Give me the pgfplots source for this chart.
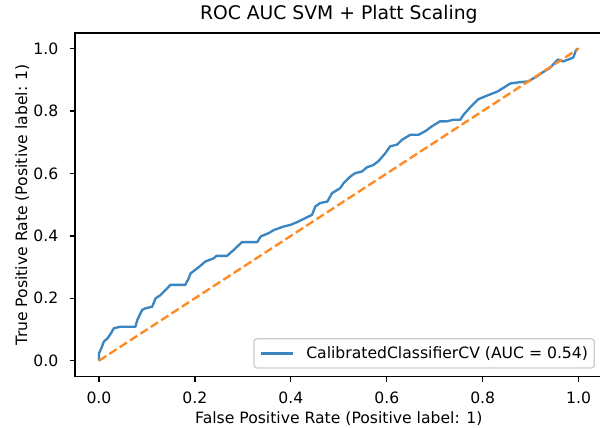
\documentclass[border=0pt]{standalone}
\usepackage{fontspec}
\setmainfont{DejaVu Sans}
\usepackage{pgfplots}
\pgfplotsset{compat=1.18}

\definecolor{rocblue}{HTML}{3B86C1}
\definecolor{chanceorange}{HTML}{FF8A24}
\definecolor{legendframe}{HTML}{CCCCCC}

\begin{document}
\begin{tikzpicture}
\begin{axis}[
  scale only axis,
  width=379.9pt, height=247.2pt,
  xmin=-0.05, xmax=1.05, ymin=-0.05, ymax=1.05,
  xtick={0,0.2,0.4,0.6,0.8,1.0},
  ytick={0,0.2,0.4,0.6,0.8,1.0},
  xtick pos=left, ytick pos=left,
  tick align=outside,
  major tick length=3.9pt,
  tick style={black, line width=0.9pt},
  axis line style={black, line width=0.9pt},
  /pgf/number format/assume math mode=true,
  /pgf/number format/.cd, fixed, fixed zerofill, precision=1,
  /pgfplots/.cd,
  tick label style={font=\fontsize{11.25}{13.5}\selectfont, inner sep=0pt},
  xticklabel style={anchor=north, yshift=-7.5pt, text height=8.2pt},
  yticklabel style={anchor=east, xshift=-7.9pt},
  title={ROC AUC SVM + Platt Scaling},
  every axis title/.style={font=\fontsize{13.5}{16}\selectfont, at={(axis description cs:0.5,1)}, anchor=base, yshift=9.9pt, inner sep=0pt},
  xlabel={False Positive Rate (Positive label: 1)},
  ylabel={True Positive Rate (Positive label: 1)},
  label style={font=\fontsize{11.25}{13.5}\selectfont},
  xlabel style={at={(axis description cs:0.5,-0.124)}, anchor=center},
  ylabel style={at={(axis description cs:-0.1,0.5)}, rotate=0, anchor=center},
  legend cell align=left,
  legend style={
    at={(axis description cs:1,0)}, anchor=south east,
    xshift=-5.6pt, yshift=5.6pt,
    draw=legendframe, line width=0.9pt, rounded corners=2pt,
    fill=white, fill opacity=0.8, text opacity=1,
    inner xsep=4.5pt, inner ysep=4.5pt,
    font=\fontsize{11.25}{13.5}\selectfont,
    nodes={inner sep=0pt, text height=9.6pt, text depth=2.4pt},
    /tikz/every odd column/.append style={column sep=9pt},
  },
  legend image code/.code={\draw[#1] (0pt,0pt) -- (22.5pt,0pt);},
]
% ROC curve of the calibrated SVM
\addplot[rocblue, line width=1.69pt, line join=round] coordinates {
(0,0) (0,0.024) (0.005,0.04) (0.01,0.061) (0.018,0.072) (0.025,0.088)
(0.031,0.104) (0.045,0.109) (0.076,0.109) (0.08,0.131) (0.09,0.163)
(0.097,0.168) (0.111,0.173) (0.118,0.2) (0.128,0.21) (0.139,0.227)
(0.149,0.243) (0.18,0.243) (0.187,0.264) (0.191,0.28) (0.205,0.296)
(0.222,0.318) (0.239,0.328) (0.245,0.336) (0.267,0.336) (0.281,0.355)
(0.298,0.38) (0.33,0.38) (0.337,0.398) (0.354,0.409) (0.365,0.419)
(0.385,0.43) (0.399,0.435) (0.416,0.446) (0.43,0.457) (0.444,0.467)
(0.451,0.494) (0.461,0.505) (0.476,0.51) (0.486,0.537) (0.503,0.553)
(0.51,0.569) (0.524,0.59) (0.534,0.601) (0.548,0.606) (0.559,0.62)
(0.572,0.627) (0.583,0.64) (0.597,0.665) (0.607,0.687) (0.621,0.692)
(0.632,0.708) (0.649,0.724) (0.666,0.724) (0.68,0.735) (0.694,0.751)
(0.711,0.767) (0.725,0.767) (0.739,0.772) (0.753,0.772) (0.76,0.788)
(0.774,0.812) (0.791,0.838) (0.81,0.85) (0.83,0.862) (0.845,0.876)
(0.857,0.888) (0.875,0.892) (0.895,0.895) (0.913,0.911) (0.923,0.922)
(0.94,0.938) (0.951,0.956) (0.957,0.965) (0.968,0.959) (0.982,0.967)
(0.989,0.972) (0.995,0.997) (1,1)
};
\addlegendentry{CalibratedClassifierCV (AUC = 0.54)}
% chance level
\addplot[chanceorange, line width=1.69pt, dash pattern=on 6.2pt off 2.7pt, forget plot] coordinates {(0,0) (1,1)};
\end{axis}
\pgfresetboundingbox
\path (-54pt,-37.2pt) rectangle (378pt,270.96pt);
\end{tikzpicture}
\end{document}
